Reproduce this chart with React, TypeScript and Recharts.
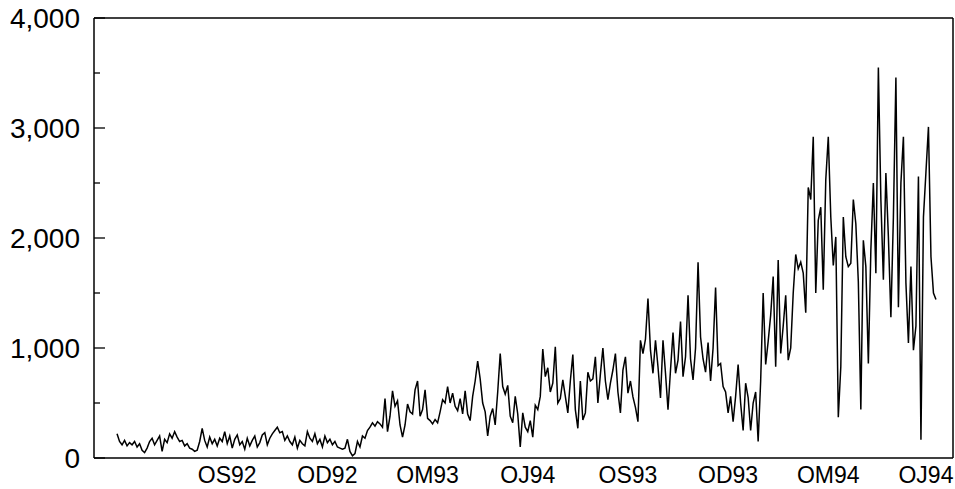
import React from "react";
import { LineChart, Line, XAxis, YAxis, ReferenceLine } from "recharts";

// Series values (one per period)
const values: number[] = [
  220,150,120,160,110,140,120,150,100,130,
  70,50,90,150,180,120,160,200,60,170,
  140,220,180,240,190,150,160,110,130,90,
  80,60,70,150,270,160,100,190,130,170,
  110,180,150,240,130,200,90,170,210,120,
  150,80,180,110,160,200,100,140,210,230,
  120,180,220,250,280,230,240,160,200,150,
  120,190,90,160,130,110,240,180,150,220,
  130,170,100,200,140,
  170,120,150,100,90,
  80,90,170,60,20,40,150,100,200,180,
  250,280,320,290,330,310,280,540,240,380,
  610,470,520,300,190,300,490,420,400,620,
  700,380,440,620,360,340,310,350,320,420,
  530,500,650,500,590,470,430,540,400,610,
  400,340,560,700,880,720,500,420,200,380,
  450,300,600,950,650,580,660,380,320,560,
  400,100,
  410,280,240,340,190,480,440,560,
  990,740,820,600,680,1010,500,540,710,560,
  410,700,940,440,270,700,345,410,780,700,
  720,920,500,760,1000,700,530,680,800,950,
  600,410,800,920,590,700,555,460,330,1070,
  950,1080,1450,980,770,1070,830,545,1070,770,
  440,800,1140,770,890,1240,740,920,1480,
  900,
  710,1000,1780,1100,900,780,1050,700,1000,1550,
  840,860,650,600,410,560,330,560,850,500,
  250,680,550,250,500,600,150,700,
  1500,850,
  1060,1300,1650,830,1800,950,1200,1480,890,1000,
  1500,1850,1720,1780,1680,1320,2460,2350,2920,1500,
  2160,2280,1530,2530,2920,2190,1750,2010,370,830,
  2190,1830,1740,1770,2350,2130,1600,440,1980,1740,
  860,1890,2500,1680,3550,2350,1620,2590,2010,1280,
  2190,3460,1370,2500,2920,1590,1045,1740,980,1200,
  2560,165,2190,2600,3010,1830,1500,1440,
];

// X tick positions (period index) and their labels
const xTickIndex: number[] = [44, 84, 124, 164, 204, 244, 284, 323];
const xTickLabels: string[] = ["OS92", "OD92", "OM93", "OJ94", "OS93", "OD93", "OM94", "OJ94"];

// Y ticks (labels on the thousands, minor ticks on the 500s)
const yTicks: number[] = [0, 500, 1000, 1500, 2000, 2500, 3000, 3500, 4000];

const X_DOMAIN: [number, number] = [-9.2, 333.8];
const Y_DOMAIN: [number, number] = [0, 4000];

const data = values.map((v, i) => ({ i, v }));

const FONT = "'Liberation Sans', Arial, Helvetica, sans-serif";

const YTick = (props: any) => {
  const { x, y, payload } = props;
  const val = payload.value as number;
  const major = val % 1000 === 0;
  const ax = x + 14;
  return (
    <g>
      <line x1={ax} x2={ax + (major ? 11 : 6)} y1={y} y2={y} stroke="#000" strokeWidth={1.3} />
      {major && (
        <text
          x={x}
          y={y}
          textAnchor="end"
          dominantBaseline="central"
          fontFamily={FONT}
          fontSize={28}
          fill="#000"
        >
          {val.toLocaleString("en-US")}
        </text>
      )}
    </g>
  );
};

const XTick = (props: any) => {
  const { x, y, payload } = props;
  const idx = xTickIndex.indexOf(payload.value);
  return (
    <text
      x={x}
      y={y}
      dy="0.71em"
      textAnchor="middle"
      fontFamily={FONT}
      fontSize={23}
      fill="#000"
    >
      {idx >= 0 ? xTickLabels[idx] : ""}
    </text>
  );
};

export default function App() {
  return (
    <div style={{ position: "absolute", left: 8, top: 0, width: 947, height: 489 }}>
      <LineChart
        width={947}
        height={489}
        data={data}
        margin={{ top: 18, right: 2, bottom: 0, left: 0 }}
      >
        <XAxis
          dataKey="i"
          type="number"
          domain={X_DOMAIN}
          ticks={xTickIndex}
          tick={<XTick />}
          tickLine={false}
          tickSize={0}
          tickMargin={9}
          height={31}
          axisLine={{ stroke: "#000", strokeWidth: 1.5 }}
          allowDataOverflow
          interval={0}
        />
        <YAxis
          type="number"
          domain={Y_DOMAIN}
          ticks={yTicks}
          tick={<YTick />}
          tickLine={false}
          tickSize={0}
          tickMargin={14}
          width={86}
          interval={0}
          axisLine={{ stroke: "#000", strokeWidth: 1.5 }}
        />
        <ReferenceLine y={Y_DOMAIN[1]} stroke="#000" strokeWidth={1.5} ifOverflow="visible" />
        <ReferenceLine x={X_DOMAIN[1]} stroke="#000" strokeWidth={1.5} ifOverflow="visible" />
        <Line
          type="linear"
          dataKey="v"
          stroke="#000"
          strokeWidth={1.5}
          dot={false}
          isAnimationActive={false}
        />
      </LineChart>
    </div>
  );
}
